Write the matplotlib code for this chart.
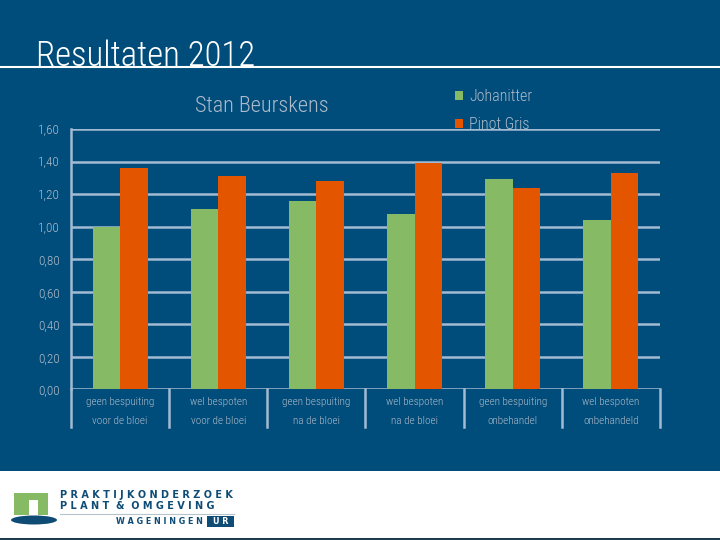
import matplotlib.pyplot as plt
from matplotlib import font_manager
from matplotlib.patches import Rectangle, Ellipse
from matplotlib.ticker import FuncFormatter, MultipleLocator
from matplotlib.lines import Line2D

# Data
categories_top = ['geen bespuiting', 'wel bespoten', 'geen bespuiting',
                  'wel bespoten', 'geen bespuiting', 'wel bespoten']
categories_bottom = ['voor de bloei', 'voor de bloei', 'na de bloei',
                     'na de bloei', 'onbehandel', 'onbehandeld']
johanitter = [1.00, 1.11, 1.16, 1.08, 1.29, 1.04]
pinot_gris = [1.36, 1.31, 1.28, 1.39, 1.24, 1.33]
series_names = ['Johanitter', 'Pinot Gris']

# Style
bg_blue = '#004C7A'
green = '#86BA64'
orange = '#E45500'
grid_col = '#A3BBD2'
text_grey = '#AEBBCA'

# Pick a condensed face if one is installed
installed = {f.name for f in font_manager.fontManager.ttflist}
candidates = ['Roboto Condensed', 'Open Sans Condensed', 'PT Sans Narrow',
              'Archivo Narrow', 'Fira Sans Condensed', 'Barlow Condensed',
              'Asap Condensed', 'IBM Plex Sans Condensed', 'Liberation Sans Narrow']
narrow_name = next((c for c in candidates if c in installed), 'DejaVu Sans')
narrow = [narrow_name, 'DejaVu Sans']

W, H = 720, 540


def fx(x):
    return x / W


def fy(y):
    return 1 - y / H


fig = plt.figure(figsize=(7.2, 5.4), dpi=100)
fig.patch.set_facecolor(bg_blue)

# White footer band with logo
fig.patches.append(Rectangle((0, 0), 1, fy(471), transform=fig.transFigure,
                             facecolor='white', edgecolor='none', zorder=0))
fig.patches.append(Rectangle((0, 0), 1, 2 / H, transform=fig.transFigure,
                             facecolor='#1d3b4f', edgecolor='none', zorder=1))
fig.patches.append(Rectangle((fx(14), fy(515)), 34 / W, 22 / H, transform=fig.transFigure,
                             facecolor='#86BA64', edgecolor='none', zorder=2))
fig.patches.append(Rectangle((fx(29), fy(515)), 9 / W, 15 / H, transform=fig.transFigure,
                             facecolor='white', edgecolor='none', zorder=3))
fig.patches.append(Ellipse((fx(34), fy(520)), 46 / W, 9 / H, transform=fig.transFigure,
                           facecolor='#0F4C75', edgecolor='none', zorder=4))
fig.text(fx(60), fy(495), 'P R A K T I J K O N D E R Z O E K', fontsize=7.0,
         color='#0F4C75', fontweight='bold', va='center', ha='left')
fig.text(fx(60), fy(506), 'P L A N T  &  O M G E V I N G', fontsize=7.0,
         color='#0F4C75', fontweight='bold', va='center', ha='left')
fig.add_artist(Line2D([fx(60), fx(234)], [fy(514), fy(514)], transform=fig.transFigure,
                      color='#b8c4cc', lw=0.8))
fig.text(fx(116), fy(521), 'W A G E N I N G E N', fontsize=5.8,
         color='#0F4C75', fontweight='bold', va='center', ha='left')
fig.patches.append(Rectangle((fx(207), fy(527)), 27 / W, 11 / H, transform=fig.transFigure,
                             facecolor='#0F4C75', edgecolor='none', zorder=2))
fig.text(fx(220.5), fy(521.5), 'U R', fontsize=5.8, color='white',
         fontweight='bold', va='center', ha='center')

# Slide title and rule
fig.add_artist(Line2D([0, 1], [fy(67), fy(67)], transform=fig.transFigure,
                      color='white', lw=1.5))
fig.text(fx(36), fy(66), 'Resultaten 2012', fontsize=25, color='white',
         family=narrow, fontweight='light', ha='left', va='baseline')

# Chart
ax = fig.add_axes([fx(71), fy(389.3), 589 / W, 260.3 / H])
ax.set_facecolor('none')
x = list(range(len(categories_top)))
bw = 0.28
ax.bar([i - bw / 2 for i in x], johanitter, width=bw, color=green,
       label=series_names[0], zorder=3)
ax.bar([i + bw / 2 for i in x], pinot_gris, width=bw, color=orange,
       label=series_names[1], zorder=3)

ax.set_xlim(-0.5, len(x) - 0.5)
ax.set_ylim(0, 1.6)
ax.yaxis.set_major_locator(MultipleLocator(0.2))
ax.yaxis.set_major_formatter(FuncFormatter(lambda v, p: f'{v:.2f}'.replace('.', ',')))
ax.grid(axis='y', color=grid_col, lw=1.8, zorder=1)
for s in ['top', 'right', 'bottom']:
    ax.spines[s].set_visible(False)
ax.spines['left'].set_color(grid_col)
ax.spines['left'].set_linewidth(1.8)
ax.set_xticks([])
ax.tick_params(axis='y', length=0, pad=8, labelcolor=text_grey, labelsize=9.5)
for lab in ax.get_yticklabels():
    lab.set_family(narrow)
    lab.set_fontweight('light')

# Category labels and separators below axis
trans = ax.get_xaxis_transform()
for i in x:
    ax.text(i, -0.049, categories_top[i], transform=trans, ha='center', va='center',
            fontsize=8, color=text_grey, family=narrow, fontweight='light')
    ax.text(i, -0.122, categories_bottom[i], transform=trans, ha='center', va='center',
            fontsize=8, color=text_grey, family=narrow, fontweight='light')
for b in range(len(x) + 1):
    ax.plot([b - 0.5, b - 0.5], [0, -0.145], transform=trans, color=grid_col,
            lw=1.8, clip_on=False, zorder=2)

# Chart title
fig.text(fx(262), fy(106), 'Stan Beurskens', fontsize=16, color=text_grey,
         family=narrow, fontweight='light', ha='center', va='center')

# Legend
leg = fig.legend(loc='upper left', bbox_to_anchor=(fx(441), fy(75)), frameon=False,
                 handlelength=0.45, handleheight=0.45, handletextpad=0.4,
                 labelspacing=0.8, prop={'family': narrow, 'size': 11.5, 'weight': 'light'})
for t in leg.get_texts():
    t.set_color(text_grey)

fig.savefig('out.png', dpi=100, facecolor=fig.get_facecolor())
